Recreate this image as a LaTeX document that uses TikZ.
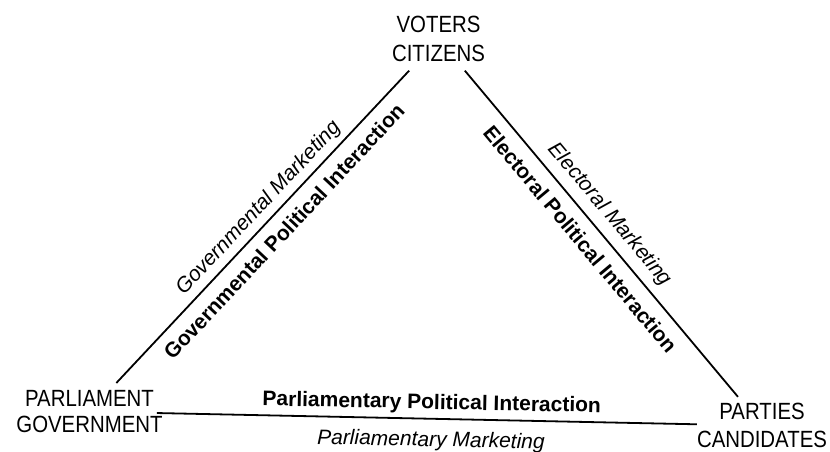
\documentclass[tikz,border=0pt]{standalone}
\usepackage{graphicx}
\usepackage{fontspec}
\setmainfont{Liberation Sans}
\newcommand{\tl}[1]{\scalebox{1}[1.15]{#1}}
\begin{document}
\begin{tikzpicture}[x=1pt,y=1pt,
  place/.style={inner xsep=0pt, align=center, font=\fontsize{20.4pt}{29pt}\selectfont},
  edge/.style={line width=1.8pt},
  mk/.style={font=\fontsize{21pt}{25pt}\selectfont\itshape, inner xsep=0pt, sloped},
  pi/.style={font=\fontsize{21pt}{25pt}\selectfont\bfseries, inner xsep=0pt, sloped}]
\useasboundingbox (0,0) rectangle (830,452);
\node[place, inner ysep=8.5pt] (voters) at (438.5,412.85) {\tl{VOTERS}\\\tl{CITIZENS}};
\node[place, inner ysep=7.3pt, font=\fontsize{20.4pt}{26pt}\selectfont] (parl) at (89.5,40.35) {\tl{PARLIAMENT}\\\tl{GOVERNMENT}};
\node[place, inner ysep=6.3pt, font=\fontsize{20.4pt}{28pt}\selectfont] (parties) at (762,26.35) {\tl{PARTIES}\\\tl{CANDIDATES}};
\draw[edge] (parl) -- (voters)
  node[mk, pos=0.526, above, inner ysep=4.5pt] (gm) {Governmental Marketing}
  node[pi, pos=0.526, below, inner ysep=10pt] (gpi) {Governmental Political Interaction};
\draw[edge] (voters) -- (parties)
  node[mk, pos=0.478, above, inner ysep=8pt] (em) {Electoral Marketing}
  node[pi, pos=0.478, below, inner ysep=11pt] (epi) {Electoral Political Interaction};
\draw[edge, shorten <=-6pt] (parl) -- (parties)
  node[pi, pos=0.503, above, inner ysep=4.5pt] (ppi) {Parliamentary Political Interaction}
  node[mk, pos=0.503, below, inner ysep=11.5pt] (pm) {Parliamentary Marketing};
\end{tikzpicture}
\end{document}
